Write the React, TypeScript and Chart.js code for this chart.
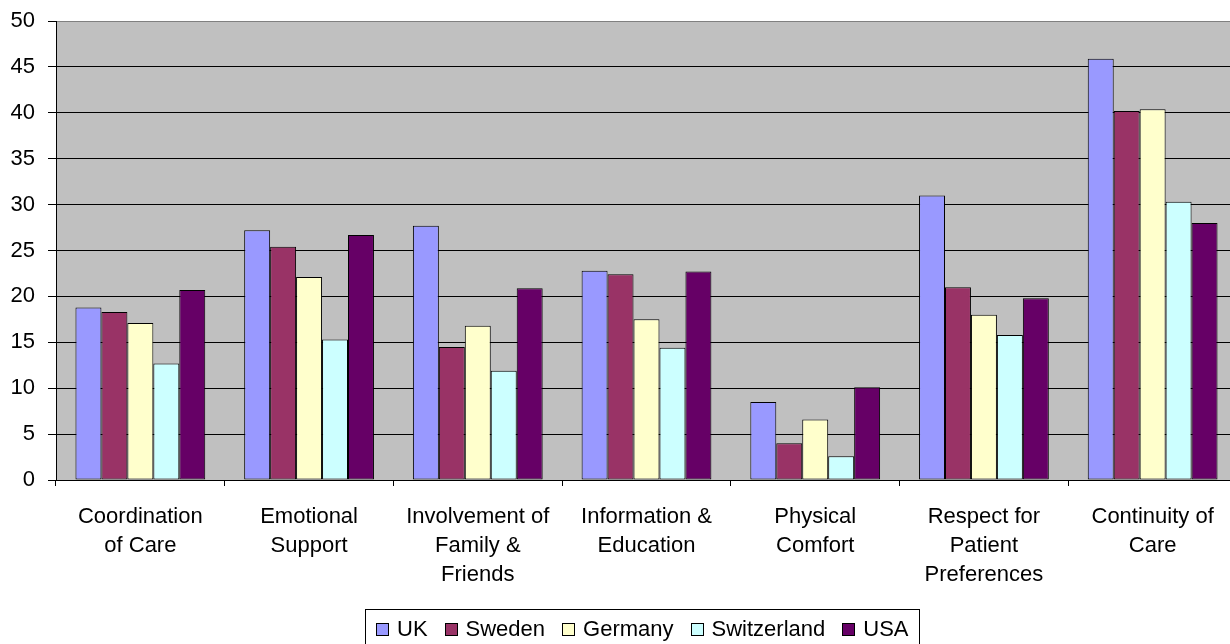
import React, { useEffect, useRef } from "react";
import { Chart, registerables } from "chart.js";

Chart.register(...registerables);

const categories: string[][] = [
  ["Coordination", "of Care"],
  ["Emotional", "Support"],
  ["Involvement of", "Family &", "Friends"],
  ["Information &", "Education"],
  ["Physical", "Comfort"],
  ["Respect for", "Patient", "Preferences"],
  ["Continuity of", "Care"],
];

const seriesNames = ["UK", "Sweden", "Germany", "Switzerland", "USA"];
const ukValues = [18.8, 27.2, 27.7, 22.8, 8.5, 31.0, 45.9];
const swedenValues = [18.3, 25.4, 14.5, 22.4, 4.0, 21.0, 40.2];
const germanyValues = [17.1, 22.1, 16.8, 17.5, 6.6, 18.0, 40.4];
const switzerlandValues = [12.7, 15.3, 11.9, 14.4, 2.6, 15.8, 30.3];
const usaValues = [20.7, 26.7, 20.9, 22.7, 10.1, 19.8, 28.0];
const seriesColors = ["#9999FF", "#993366", "#FFFFCC", "#CCFFFF", "#660066"];

const yMin = 0;
const yMax = 50;
const yStep = 5;

const FONT = "'Liberation Sans', Arial, sans-serif";

const bgPlugin = {
  id: "bgPlugin",
  beforeDraw(chart: any) {
    const { ctx, chartArea } = chart;
    ctx.save();
    ctx.fillStyle = "#ffffff";
    ctx.fillRect(0, 0, chart.width, chart.height);
    ctx.fillStyle = "#C0C0C0";
    ctx.fillRect(chartArea.left, chartArea.top, chartArea.right - chartArea.left, chartArea.bottom - chartArea.top);
    ctx.restore();
  },
};

// Legend drawn on the canvas, boxed like the reference
const legendPlugin = {
  id: "boxedLegend",
  afterDraw(chart: any) {
    const ctx = chart.ctx;
    const datasets = chart.data.datasets;
    ctx.save();
    ctx.font = `22px ${FONT}`;
    const boxSize = 13;
    const boxGap = 8;
    const itemGap = 17;
    const sidePad = 11;
    const widths = datasets.map((d: any) => ctx.measureText(d.label).width);
    let total = sidePad * 2;
    widths.forEach((w: number, i: number) => {
      total += boxSize + boxGap + w + (i > 0 ? itemGap : 0);
    });
    const center = (chart.chartArea.left + chart.chartArea.right) / 2 - 4;
    const left = Math.round(center - total / 2);
    const top = 609;
    const bottom = chart.height;
    const midY = 629.5;
    ctx.strokeStyle = "#000";
    ctx.lineWidth = 1;
    ctx.strokeRect(left + 0.5, top + 0.5, Math.round(total), bottom - top);
    let x = left + sidePad;
    datasets.forEach((d: any, i: number) => {
      const bx = Math.round(x);
      const by = Math.round(midY - boxSize / 2);
      ctx.fillStyle = d.backgroundColor;
      ctx.fillRect(bx, by, boxSize, boxSize);
      ctx.strokeStyle = "#000";
      ctx.strokeRect(bx + 0.5, by + 0.5, boxSize - 1, boxSize - 1);
      ctx.fillStyle = "#000";
      ctx.textBaseline = "middle";
      ctx.textAlign = "left";
      ctx.fillText(d.label, x + boxSize + boxGap, midY);
      x += boxSize + boxGap + widths[i] + itemGap;
    });
    ctx.restore();
  },
};

export default function App() {
  const ref = useRef<HTMLCanvasElement | null>(null);

  useEffect(() => {
    if (!ref.current) return;
    const valuesList = [ukValues, swedenValues, germanyValues, switzerlandValues, usaValues];
    const chart = new Chart(ref.current, {
      type: "bar",
      data: {
        labels: categories,
        datasets: seriesNames.map((name, i) => ({
          label: name,
          data: valuesList[i],
          backgroundColor: seriesColors[i],
          borderColor: "#000000",
          borderWidth: 1,
          borderSkipped: false,
          categoryPercentage: 5 / 6.5,
          barPercentage: 1,
        })),
      },
      options: {
        responsive: false,
        devicePixelRatio: 1,
        animation: false,
        events: [],
        layout: { padding: { top: 21, left: 0, right: 0, bottom: 38 } },
        plugins: {
          tooltip: { enabled: false },
          legend: { display: false },
        },
        scales: {
          x: {
            ticks: {
              color: "#000",
              font: { size: 22, family: FONT, lineHeight: 1.3 },
              padding: 17,
              maxRotation: 0,
              minRotation: 0,
              autoSkip: false,
            },
            grid: {
              drawOnChartArea: false,
              drawTicks: true,
              tickLength: 6,
              color: "#000",
              offset: true,
            },
            border: { color: "#000", width: 1 },
            afterFit: (s: any) => {
              s.height = 129;
            },
          },
          y: {
            min: yMin,
            max: yMax,
            ticks: {
              stepSize: yStep,
              color: "#000",
              font: { size: 22, family: FONT },
              padding: 13,
            },
            grid: {
              color: (c: any) => (c.tick && c.tick.value === yMax ? "#808080" : "#000000"),
              tickColor: "#000",
              tickLength: 8,
              lineWidth: 1,
            },
            border: { color: "#000", width: 1 },
            afterFit: (s: any) => {
              s.width = 56;
              s.paddingTop = 0;
              s.paddingBottom = 0;
            },
          },
        },
      },
      plugins: [bgPlugin, legendPlugin],
    } as any);
    return () => chart.destroy();
  }, []);

  return (
    <div
      style={{
        position: "absolute",
        left: 0,
        top: 0,
        width: 1230,
        height: 644,
        overflow: "hidden",
        background: "#fff",
      }}
    >
      <canvas ref={ref} width={1237} height={647} style={{ display: "block", width: 1237, height: 647 }} />
    </div>
  );
}
